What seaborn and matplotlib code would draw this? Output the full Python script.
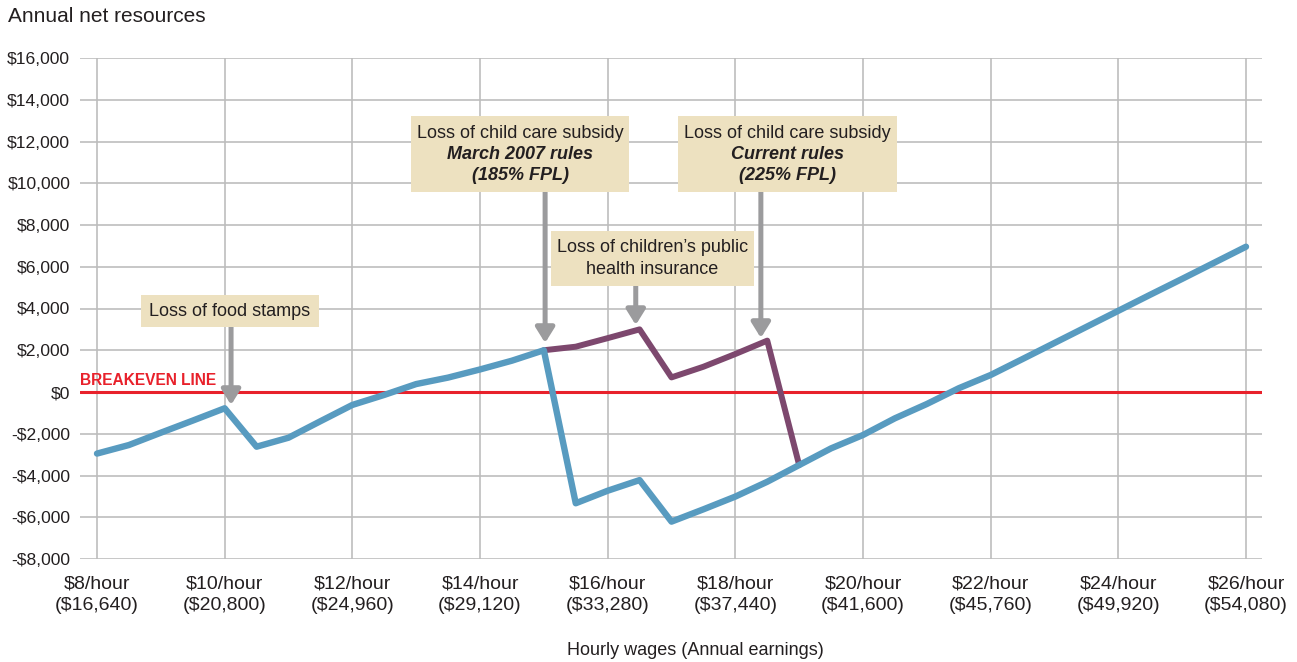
import numpy as np
import pandas as pd
import matplotlib.pyplot as plt
import seaborn as sns
from matplotlib.patches import Rectangle

# hourly wage steps ($/hour)
wage = [8, 8.5, 9, 9.5, 10, 10.5, 11, 11.5, 12, 12.5, 13, 13.5, 14, 14.5,
        15, 15.5, 16, 16.5, 17, 17.5, 18, 18.5, 19, 19.5, 20, 20.5, 21, 21.5,
        22, 22.5, 23, 23.5, 24, 24.5, 25, 25.5, 26]
# net resources, March 2007 rules (blue)
net_2007 = [-2950, -2540, -1950, -1370, -780, -2620, -2190, -1400, -620, -140,
            380, 690, 1080, 1500, 2000, -5330, -4730, -4220, -6210, -5620,
            -5010, -4300, -3500, -2700, -2060, -1260, -575, 180, 815, 1580,
            2350, 3120, 3890, 4660, 5420, 6190, 6960]
# net resources, current rules (purple, where they differ)
wage_cur = [15, 15.5, 16, 16.5, 17, 17.5, 18, 18.5, 19]
net_cur = [2000, 2170, 2580, 3000, 700, 1210, 1820, 2460, -3500]

tick_wages = [8, 10, 12, 14, 16, 18, 20, 22, 24, 26]
tick_labels = [f"${w}/hour\n(${w * 2080:,})" for w in tick_wages]
y_ticks = list(range(-8000, 16001, 2000))
y_labels = [f"-${abs(v):,}" if v < 0 else f"${v:,}" for v in y_ticks]

df_2007 = pd.DataFrame({"wage": wage, "net": net_2007})
df_cur = pd.DataFrame({"wage": wage_cur, "net": net_cur})

sns.set_style("white")
plt.rcParams['font.family'] = ['Liberation Sans', 'DejaVu Sans']

BLUE = "#589BC0"
PURPLE = "#7D486E"
RED = "#E8212B"
BOX = "#EDE1C0"
ARROW = "#9B9B9D"
GRID = "#BDBDBD"
TXT = "#231F20"

fig = plt.figure(figsize=(12.97, 6.62), dpi=100)
ax = fig.add_axes([80 / 1297, 1 - 559 / 662, 1182 / 1297, 501 / 662])

ax.axhline(0, color=RED, lw=2.2, zorder=2)
sns.lineplot(data=df_cur, x="wage", y="net", ax=ax, color=PURPLE, lw=4.3,
             sort=False, zorder=3)
sns.lineplot(data=df_2007, x="wage", y="net", ax=ax, color=BLUE, lw=4.6,
             sort=False, zorder=4)
for l in ax.lines[1:]:
    l.set_solid_capstyle("round")

ax.set_xlim(8 - 17 / 63.83, 26 + 16 / 63.83)
ax.set_ylim(-8000, 16000)
ax.set_xticks(tick_wages)
ax.set_xticklabels(tick_labels, fontsize=14, color=TXT, linespacing=1.3)
ax.set_yticks(y_ticks)
ax.set_yticklabels(y_labels, fontsize=12.6, color=TXT)
ax.grid(True, color=GRID, lw=1.2)
ax.set_axisbelow(True)
for s in ax.spines.values():
    s.set_visible(False)
ax.tick_params(axis="x", length=6, width=1.2, color=GRID, pad=6)
ax.tick_params(axis="y", length=0, pad=7)

ax.set_xlabel("Hourly wages (Annual earnings)", fontsize=13, color=TXT,
              va="center")
ax.xaxis.set_label_coords((695 - 80) / 1182, -0.182)
ax.set_ylabel("")
fig.text(8 / 1297, 1 - 16 / 662, "Annual net resources", fontsize=15,
         color=TXT, va="center", ha="left")

ax.text(7.74, 170, "BREAKEVEN LINE", color=RED, fontsize=11.2,
        fontweight="bold", ha="left", va="bottom")

# annotation boxes
def arrow(x, y0, y1):
    ax.annotate("", xy=(x, y1), xytext=(x, y0),
                arrowprops=dict(arrowstyle="-|>,head_length=0.45,head_width=0.28",
                                color=ARROW, lw=3.6, mutation_scale=20,
                                shrinkA=0, shrinkB=0), zorder=5)

def box(x0, x1, y0, y1):
    ax.add_patch(Rectangle((x0, y0), x1 - x0, y1 - y0, facecolor=BOX,
                           edgecolor="none", zorder=6))

FS = 13

# food stamps
box(8.69, 11.48, 3114, 4650)
ax.text(10.08, 3880, "Loss of food stamps", fontsize=FS, color=TXT,
        ha="center", va="center", zorder=7)
arrow(10.1, 3114, -620)

# March 2007 rules
box(12.92, 16.34, 9580, 13220)
ax.text(14.63, 12360, "Loss of child care subsidy", fontsize=FS, color=TXT,
        ha="center", va="center", zorder=7)
ax.text(14.63, 11400, "March 2007 rules", fontsize=FS, color=TXT,
        fontweight="bold", fontstyle="italic", ha="center", va="center", zorder=7)
ax.text(14.63, 10350, "(185% FPL)", fontsize=FS, color=TXT,
        fontweight="bold", fontstyle="italic", ha="center", va="center", zorder=7)
arrow(15.02, 9580, 2350)

# current rules
box(17.10, 20.53, 9580, 13220)
ax.text(18.82, 12360, "Loss of child care subsidy", fontsize=FS, color=TXT,
        ha="center", va="center", zorder=7)
ax.text(18.82, 11400, "Current rules", fontsize=FS, color=TXT,
        fontweight="bold", fontstyle="italic", ha="center", va="center", zorder=7)
ax.text(18.82, 10350, "(225% FPL)", fontsize=FS, color=TXT,
        fontweight="bold", fontstyle="italic", ha="center", va="center", zorder=7)
arrow(18.40, 9580, 2590)

# health insurance
box(15.11, 18.29, 5080, 7710)
ax.text(16.70, 6900, "Loss of children\u2019s public", fontsize=FS, color=TXT,
        ha="center", va="center", zorder=7)
ax.text(16.70, 5890, "health insurance", fontsize=FS, color=TXT,
        ha="center", va="center", zorder=7)
arrow(16.44, 5080, 3210)

fig.savefig("out.png", dpi=100)
